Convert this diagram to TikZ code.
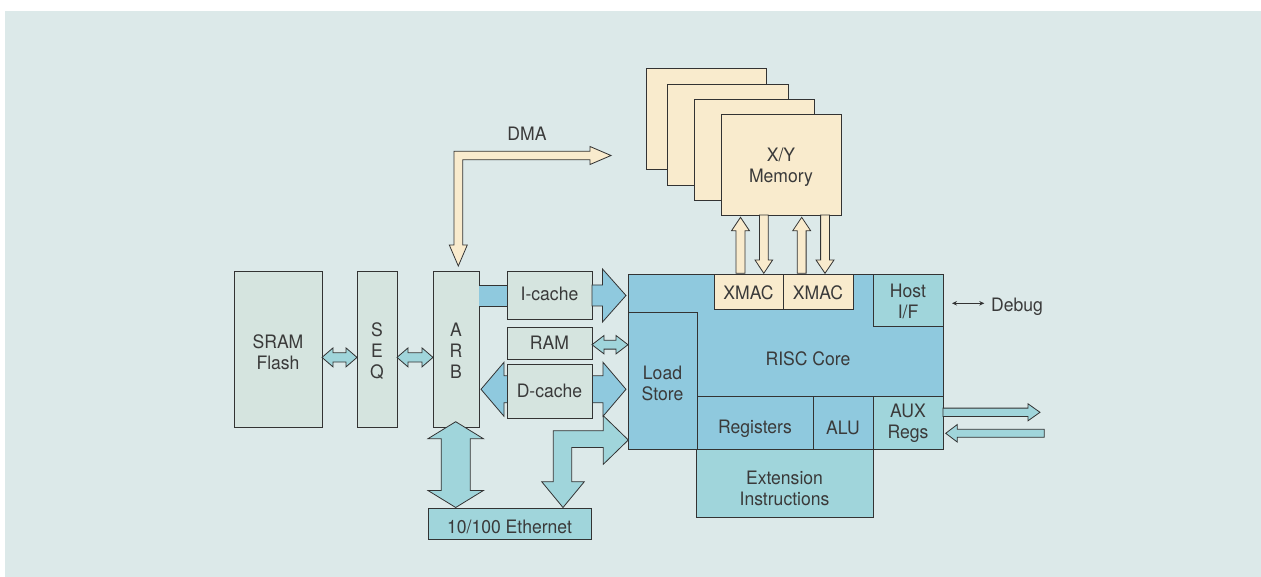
\documentclass[tikz,border=0pt]{standalone}
\usepackage{fontspec}
\setmainfont{TeX Gyre Heros}[FakeStretch=0.95]
\usetikzlibrary{arrows.meta}
\definecolor{bgc}{HTML}{DCE9E9}
\definecolor{grayc}{HTML}{D5E4DF}
\definecolor{corec}{HTML}{8FC9DE}
\definecolor{tealc}{HTML}{A0D5DB}
\definecolor{creamc}{HTML}{F9EBCD}
\definecolor{linec}{HTML}{333333}
\definecolor{textc}{HTML}{3A3A3A}
% rectangular block: [text shift down] name x1 y1 x2 y2 fill text
\newcommand\blk[8][0]{\node[box, fill=#7, minimum width={(#5-#3)*1bp}, minimum height={(#6-#4)*1bp},
   label={[lbl, yshift={-(#1)*1bp}]center:{#8}}] (#2) at ({(#3+#5)/2},{(#4+#6)/2}) {};}
% block arrows
\newcommand\blkHD[7][]{% x1 x2 y shaft-half head-half head-length
 \draw[barrow,#1] (#2,#4) -- ({#2+#7},{#4-#6}) -- ({#2+#7},{#4-#5}) -- ({#3-#7},{#4-#5}) -- ({#3-#7},{#4-#6}) -- (#3,#4) -- ({#3-#7},{#4+#6}) -- ({#3-#7},{#4+#5}) -- ({#2+#7},{#4+#5}) -- ({#2+#7},{#4+#6}) -- cycle;}
\newcommand\blkH[7][]{% tail-x tip-x y s h l(signed)
 \draw[barrow,#1] (#2,{#4-#5}) -- ({#3-#7},{#4-#5}) -- ({#3-#7},{#4-#6}) -- (#3,#4) -- ({#3-#7},{#4+#6}) -- ({#3-#7},{#4+#5}) -- (#2,{#4+#5}) -- cycle;}
\newcommand\blkV[7][]{% x tail-y tip-y s h l(signed)
 \draw[barrow,#1] ({#2-#5},#3) -- ({#2-#5},{#4-#7}) -- ({#2-#6},{#4-#7}) -- (#2,#4) -- ({#2+#6},{#4-#7}) -- ({#2+#5},{#4-#7}) -- ({#2+#5},#3) -- cycle;}
\newcommand\blkVD[7][]{% x top-tip bottom-tip s h l
 \draw[barrow,#1] (#2,#3) -- ({#2+#6},{#3+#7}) -- ({#2+#5},{#3+#7}) -- ({#2+#5},{#4-#7}) -- ({#2+#6},{#4-#7}) -- (#2,#4) -- ({#2-#6},{#4-#7}) -- ({#2-#5},{#4-#7}) -- ({#2-#5},{#3+#7}) -- ({#2-#6},{#3+#7}) -- cycle;}
\begin{document}
\begin{tikzpicture}[x=1bp,y=-1bp,
  font=\fontsize{18.5bp}{21bp}\selectfont,
  box/.style={draw=linec, line width=0.8bp, inner sep=0pt, align=center, text=textc},
  barrow/.style={draw=linec, line width=0.8bp, line join=miter},
  lbl/.style={text=textc, inner sep=0pt, align=center, label distance=0pt}]
\useasboundingbox (0,0) rectangle (1261,577);
\fill[bgc] (5,11) rectangle (1261,577);

% DMA arrow
\draw[barrow, fill=creamc] (611,155.5) -- (590,164.5) -- (590,159.8) -- (462.7,159.8) -- (462.7,245) -- (467.3,245) -- (458.3,266) -- (449.3,245) -- (454,245) -- (454,151.2) -- (590,151.2) -- (590,146.5) -- cycle;
\node[lbl] (dma) at (527,134) {DMA};

% memory stack
\blk{mem1}{646}{68}{766}{169}{creamc}{}
\blk{mem2}{667}{84}{788}{185}{creamc}{}
\blk{mem3}{694}{99}{814}{200}{creamc}{}
\blk[2.5]{mem4}{721}{114}{841}{215}{creamc}{X/Y\\Memory}

% XMAC arrows
\blkV[fill=creamc]{740.5}{273.3}{217.3}{4.5}{9}{-13.5}
\blkV[fill=creamc]{763.8}{215}{273.3}{4.4}{8.8}{13.3}
\blkV[fill=creamc]{801.7}{273.3}{217.3}{4.4}{9}{-13.5}
\blkV[fill=creamc]{825}{215}{273.3}{4.4}{9}{13.3}

% core
\blk{core}{628}{274}{943}{449}{corec}{}
\node[lbl] (risc) at (808,359) {RISC Core};
\blk[2.5]{ls}{628}{312}{697}{449}{corec}{Load\\Store}
\blk[1]{xmac1}{714}{274}{783}{309}{creamc}{XMAC}
\blk[1]{xmac2}{783}{274}{853}{309}{creamc}{XMAC}
\blk[1]{host}{873}{274}{943}{326}{tealc}{Host\\I/F}
\blk[6]{regs}{697}{396}{813}{449}{corec}{Registers}
\blk[5]{alu}{813}{396}{873}{449}{corec}{ALU}
\blk[1]{aux}{873}{396}{943}{449}{tealc}{AUX\\Regs}
\blk[5.5]{ext}{696}{449}{873}{517}{tealc}{Extension\\Instructions}

% debug
\coordinate (dbgA) at (952,303.3);
\coordinate (dbgB) at (984.3,303.3);
\draw[linec, line width=0.8bp, {Stealth[length=5bp,width=4.5bp]}-{Stealth[length=5bp,width=4.5bp]}] (dbgA) -- (dbgB);
\node[lbl, anchor=base west] (debug) at (991,311.7) {Debug};

% AUX arrows
\blkH[fill=tealc]{943}{1040}{412.3}{4.2}{8.5}{12}
\blkH[fill=tealc]{1044.3}{945.7}{433.3}{4}{8.8}{-11.6}

% left blocks
\blk[3]{sram}{234}{271}{322}{427}{grayc}{SRAM\\Flash}
\blk[2]{seq}{357}{271}{397}{427}{grayc}{S\\E\\Q}
\blk[2]{arb}{433}{271}{479}{427}{grayc}{A\\R\\B}
\blkHD[fill=tealc]{322}{357}{357.4}{4.6}{9.5}{11}
\blkHD[fill=tealc]{397}{433}{357.4}{4.6}{9.5}{11}

% I-cache
\fill[corec] (479,285) rectangle (507,306);
\draw[linec, line width=0.8bp] (479,285) -- (507,285) (479,306) -- (507,306);
\blk[-1.5]{icache}{507}{271}{592}{319}{grayc}{I-cache}
\blkH[fill=corec]{592}{626}{295.5}{10.5}{26.5}{23.5}

% RAM
\blk{ram}{507}{327}{592}{359}{grayc}{RAM}
\blkHD[fill=tealc]{592}{628}{344.7}{4.4}{9.2}{12}

% D-cache
\blkHD[fill=corec]{481}{626}{389.3}{13.5}{27}{23}
\blk{dcache}{507}{364}{592}{418}{grayc}{D-cache}

% bent arrow Ethernet / core
\draw[barrow, fill=tealc] (628.3,440) -- (603.3,464.3) -- (603.3,447.5) -- (571.7,447.5) -- (571.7,481.7) -- (584.3,481.7) -- (563,507.5) -- (541.7,481.7) -- (553.3,481.7) -- (553.3,430.7) -- (603.3,430.7) -- (603.3,415.7) -- cycle;

% ARB - Ethernet
\blkVD[fill=tealc]{455.7}{421.7}{507.5}{14.5}{27.7}{17}
\blk[3]{eth}{428}{508}{591}{539}{tealc}{10/100 Ethernet}
\end{tikzpicture}
\end{document}
